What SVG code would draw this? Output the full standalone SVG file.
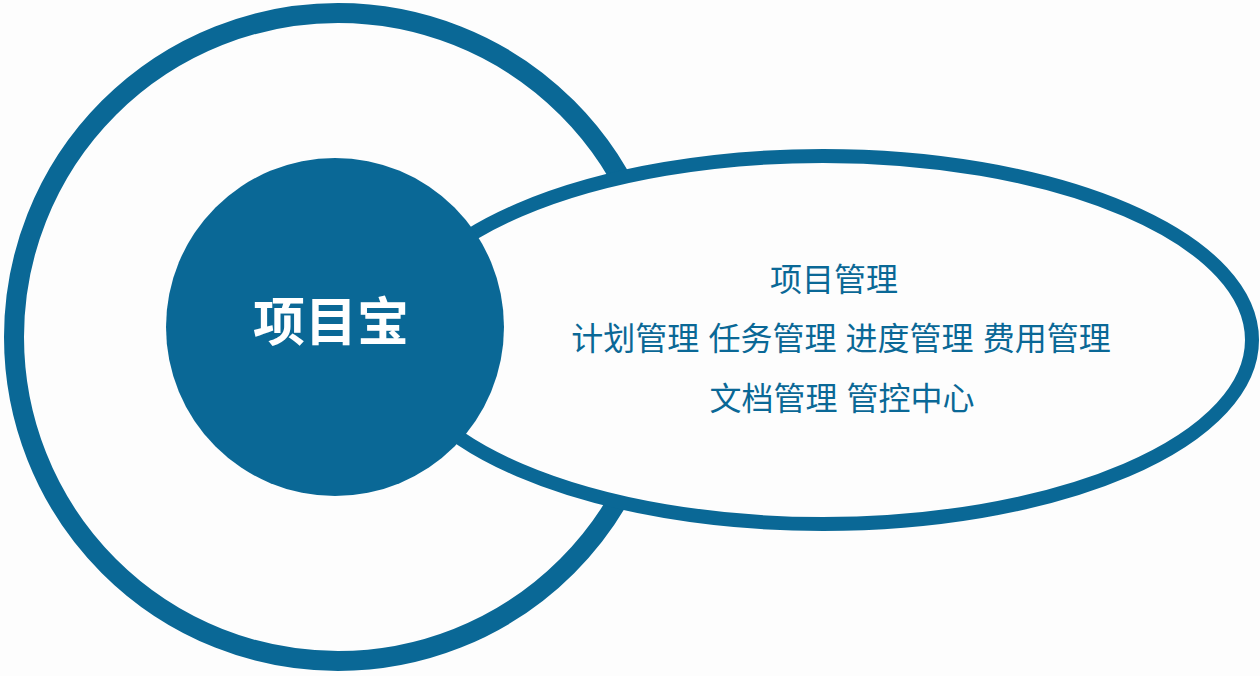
<svg xmlns="http://www.w3.org/2000/svg" width="1260" height="676" viewBox="0 0 1260 676">
<style>
.blue{stroke:#0a6896}
.t{font-family:"Noto Sans CJK SC","Noto Sans",sans-serif;fill:#0a6896;font-size:32px;text-anchor:middle;word-spacing:2px}
.title{font-family:"Noto Sans CJK SC","Noto Sans",sans-serif;fill:#ffffff;font-size:52px;font-weight:bold;text-anchor:middle}
</style>
<rect width="1260" height="676" fill="#fdfdfd"/>
<g id="outer-ring">
<circle cx="338" cy="337" r="324" fill="#fdfdfd" class="blue" stroke-width="20"/>
</g>
<g id="module-ellipse">
<ellipse cx="823" cy="340" rx="429" ry="184" fill="#fdfdfd" class="blue" stroke-width="14"/>
<text class="t" x="834" y="291">项目管理</text>
<text class="t" x="841" y="350">计划管理 任务管理 进度管理 费用管理</text>
<text class="t" x="842" y="410">文档管理 管控中心</text>
</g>
<g id="core">
<circle cx="335" cy="327" r="169" fill="#0a6896"/>
<text class="title" x="331" y="341">项目宝</text>
</g>
</svg>
